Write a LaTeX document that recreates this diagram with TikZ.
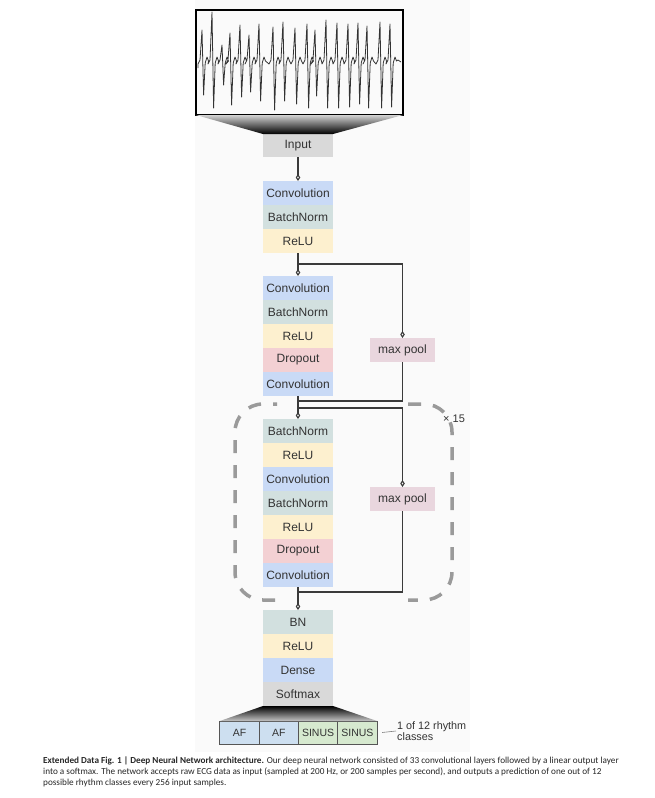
\documentclass[tikz,border=0pt]{standalone}
\usepackage{fontspec}
\setmainfont{Liberation Sans}
\newfontfamily\capfont{Carlito}
\usepackage{tikz}
\usetikzlibrary{positioning}
\usetikzlibrary{arrows.meta}

\definecolor{textgray}{HTML}{333333}
\definecolor{wiregray}{HTML}{3A3A3A}
\definecolor{loopgray}{HTML}{9A9A9A}
\definecolor{convblue}{HTML}{C9DAF6}
\definecolor{bngray}{HTML}{D2E0DF}
\definecolor{reluyellow}{HTML}{FDF0CF}
\definecolor{droppink}{HTML}{F3D0D3}
\definecolor{poolmauve}{HTML}{E9D6DE}
\definecolor{inputgray}{HTML}{D9D9D9}
\definecolor{afblue}{HTML}{CDDFF0}
\definecolor{sinusgreen}{HTML}{D6E9CF}
\definecolor{cellborder}{HTML}{555555}
\definecolor{panel}{HTML}{FAFAFA}

\tikzset{
    layer/.style={minimum width=70pt, minimum height=24pt, inner sep=0pt, outer sep=0pt,
        text=textgray, font=\fontsize{12}{14}\selectfont},
    conv/.style={layer, fill=convblue},
    bnorm/.style={layer, fill=bngray},
    relu/.style={layer, fill=reluyellow},
    drop/.style={layer, fill=droppink},
    grayfill/.style={layer, fill=inputgray},
    pool/.style={layer, minimum width=65pt, fill=poolmauve},
    cell/.style={minimum width=39.3pt, minimum height=23pt, inner sep=0pt, outer sep=0pt,
        draw=cellborder, line width=0.8pt, text=textgray, font=\fontsize{10.5}{12}\selectfont},
    afcell/.style={cell, fill=afblue},
    sinuscell/.style={cell, fill=sinusgreen},
    wire/.style={draw=wiregray, line width=1.1pt},
    feed/.style={wire, -{Diamond[open, length=7pt, width=4.5pt]}},
    loopline/.style={draw=loopgray, line width=3.5pt, dash pattern=on 13pt off 12pt, rounded corners=28pt},
    ecgline/.style={draw=textgray, line width=0.8pt, line join=round},
    note/.style={text=textgray, inner sep=1pt, font=\fontsize{11}{13}\selectfont},
    caption/.style={inner sep=0pt, align=left, text=black!85, font=\capfont\fontsize{9.2}{11}\selectfont},
}

\begin{document}
\begin{tikzpicture}[x=1pt, y=-1pt]
    \useasboundingbox (0,0) rectangle (655,798);
    \fill[panel] (195,0) rectangle (470,752);

    % ECG strip and input
    \node[draw=black, line width=1.2pt, minimum width=207pt, minimum height=105pt, inner sep=0pt, outer sep=0pt] (ecg) at (299.5,62.5) {};
    \draw[ecgline] (198,68)
        \foreach \p/\u/\d in {202/30/95, 212/12/108, 222/45/85, 230/33/105, 240/25/97, 249/35/92,
            259/24/101, 273/27/110, 283/22/101, 295/28/104, 307/24/108, 315/30/96, 326/20/108,
            337/23/108, 348/24/107, 358/23/104, 367/26/108, 380/22/108, 390/24/107}
        { -- (\p-4,64) -- (\p-2,60) -- (\p,\u) -- (\p+1.6,\d) -- (\p+3.2,63) -- (\p+5,57) -- (\p+6.5,61) }
        -- (398,60) -- (401,62);
    \node[grayfill, minimum height=23pt] (input) at (298,145.5) {Input};
    \shade[top color=gray!35, bottom color=black] (ecg.south west) -- (ecg.south east) -- (input.north east) -- (input.north west) -- cycle;

    % first block
    \node[conv] (conv1) at (298,193) {Convolution};
    \node[bnorm, below=0pt of conv1] (bn1) {BatchNorm};
    \node[relu, below=0pt of bn1] (relu1) {ReLU};

    % second block
    \node[conv] (conv2a) at (298,288) {Convolution};
    \node[bnorm, below=0pt of conv2a] (bn2) {BatchNorm};
    \node[relu, below=0pt of bn2] (relu2) {ReLU};
    \node[drop, below=0pt of relu2] (drop2) {Dropout};
    \node[conv, below=0pt of drop2] (conv2b) {Convolution};
    \node[pool] (pool1) at (402.5,350) {max pool};

    % repeated block
    \node[bnorm] (bn3a) at (298,431) {BatchNorm};
    \node[relu, below=0pt of bn3a] (relu3a) {ReLU};
    \node[conv, below=0pt of relu3a] (conv3a) {Convolution};
    \node[bnorm, below=0pt of conv3a] (bn3b) {BatchNorm};
    \node[relu, below=0pt of bn3b] (relu3b) {ReLU};
    \node[drop, below=0pt of relu3b] (drop3) {Dropout};
    \node[conv, below=0pt of drop3] (conv3b) {Convolution};
    \node[pool] (pool2) at (402.5,499) {max pool};
    % dashed loop, left and right halves
    \draw[loopline, dash phase=9pt] (277,404) -| (235,600) -- (277,600);
    \draw[loopline] (408,404) -| (452,600) -- (408,600);
    \node[note, anchor=west] (reps) at (442,419) {× 15};

    % output block
    \node[bnorm] (bn4) at (298,622) {BN};
    \node[relu, below=0pt of bn4] (relu4) {ReLU};
    \node[conv, below=0pt of relu4] (dense) {Dense};
    \node[grayfill, below=0pt of dense] (soft) {Softmax};

    \node[afcell] (out1) at (239.5,732.5) {AF};
    \node[afcell, right=0pt of out1] (out2) {AF};
    \node[sinuscell, right=0pt of out2] (out3) {SINUS};
    \node[sinuscell, right=0pt of out3] (out4) {SINUS};
    \shade[top color=black, bottom color=gray!45] (soft.south west) -- (soft.south east) -- (out4.north east) -- (out1.north west) -- cycle;
    \node[note, anchor=west, align=left, font=\fontsize{10.8}{11.5}\selectfont] (classes) at (396,731) {1 of 12 rhythm\\classes};
    \coordinate (tick) at ([xshift=5pt]out4.east);
    \draw[draw=gray, line width=0.6pt] (tick) -- (classes.west);

    % skip connections
    \path (relu1.south) ++(0,11) coordinate (split1);
    \path (conv2b.south) ++(0,5) coordinate (merge1) ++(0,7) coordinate (split2);
    \path (conv3b.south) ++(0,5) coordinate (merge2);
    \draw[feed] (input) -- (conv1);
    \draw[feed] (relu1) -- (conv2a);
    \draw[feed] (split1) -| (pool1);
    \draw[wire] (pool1) |- (merge1);
    \draw[feed] (conv2b) -- (bn3a);
    \draw[feed] (split2) -| (pool2);
    \draw[wire] (pool2) |- (merge2);
    \draw[feed] (conv3b) -- (bn4);

    % caption
    \node[caption, anchor=north west] (cap) at (43,757) {\textbf{Extended Data Fig. 1 | Deep Neural Network architecture.} Our deep neural network consisted of 33 convolutional layers followed by a linear output layer\\
        into a softmax. The network accepts raw ECG data as input (sampled at 200 Hz, or 200 samples per second), and outputs a prediction of one out of 12\\
        possible rhythm classes every 256 input samples.};
\end{tikzpicture}
\end{document}
